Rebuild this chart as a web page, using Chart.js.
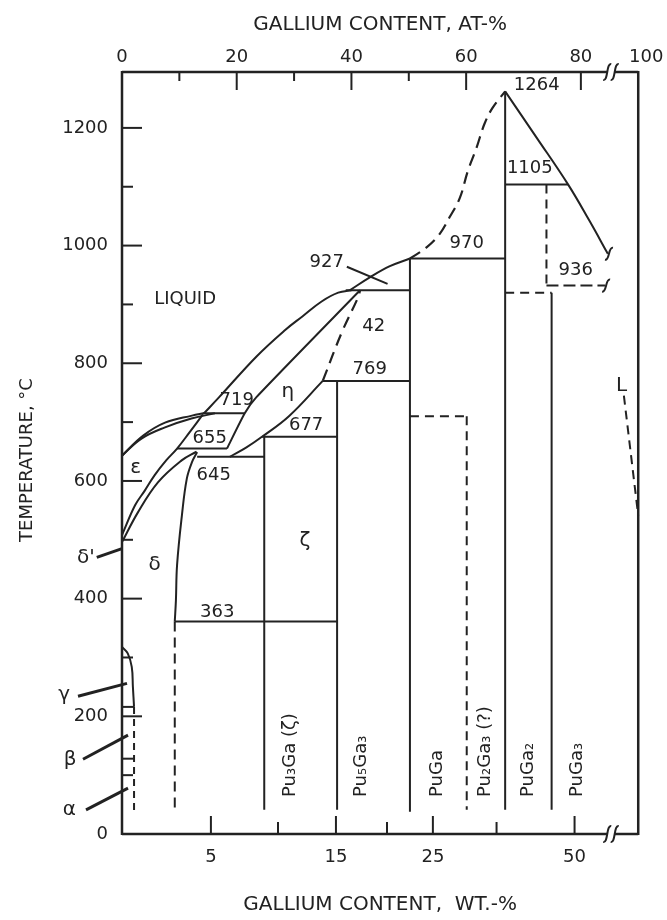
<!DOCTYPE html>
<html><head><meta charset="utf-8">
<script src="https://cdn.jsdelivr.net/npm/chart.js@4"></script>
<style>html,body{margin:0;padding:0;background:#fff}canvas{display:block}</style>
</head><body>
<canvas id="c" width="667" height="920" style="width:667px;height:920px"></canvas>
<script>
// ---------- axis tick data (x = Ga content at.-%, y = temperature °C) ----------
const atTickValues = [0, 20, 40, 60, 80, 91.4];   // last one is the "100" label beyond the break
const atTickLabels = ['0', '20', '40', '60', '80', '100'];
const atMinorTicks = [10, 30, 50];
const wtTickPositions = [15.5, 27.2, 37.3, 46.2, 54.2, 65.3, 78.9]; // at.-% position of each wt.-% tick
const wtTickLabels = ['5', '', '15', '', '25', '', '50'];
const tempTicks = [0, 200, 400, 600, 800, 1000, 1200];
const tempTickLabels = ['0', '200', '400', '600', '800', '1000', '1200'];
const tempMinorTicks = [100, 300, 500, 700, 900, 1100];

// ---------- phase boundaries [at.-% Ga, °C] ----------
const liquidusLow = [[0,643],[3.7,677],[7.5,699],[12.2,711],[14.3,715]];
const liquidusMid = [[14.3,715],[16.9,742],[23.5,812],[28.5,857],[31.5,880],[34.8,905],[37.7,920],[40.0,924]];
const liquidusUpper = [[39.7,924],[43.2,946],[46.7,965],[50.2,978]];
const liquidusDashed = [[50.2,978],[53.1,997],[55.4,1020],[57.1,1048],[58.9,1081],[60.3,1127],[61.8,1166],[63.2,1207],[64.6,1234],[66.8,1262]];
const liquidusGaRich = [[66.8,1262],[72.25,1184],[77.76,1104],[81.5,1042],[84.7,986]];
const epsilonSolidus = [[0,643],[3.4,672],[7.5,691],[12.1,706],[16.2,715]];
const epsilonDelta = [[0,508],[2.3,559],[4.0,584],[5.7,610],[7.7,635],[9.6,655],[11.8,683],[14.1,713]];
const deltaEpsilon = [[0,496],[2.8,547],[6.3,598],[10.4,635],[13.0,650]];
const deltaSolvus = [[9.2,361],[9.4,397],[9.6,457],[10.45,542],[11.3,604],[12.2,632],[13.1,649]];
const etaLeft = [[18.3,655],[21.4,715],[23.4,742],[41.5,924]];
const etaRight = [[18.8,641],[21.7,657],[24.4,675],[29.1,710],[35.0,770]];
const etaRightDashed = [[35.0,770],[38.3,852],[41.2,913],[41.5,924]];
const gammaBoundary = [[0,318],[1.0,307],[1.7,284],[1.9,250],[2.1,216]];

// isotherms
const iso363 = [[9.2,361],[37.5,361]];
const iso645 = [[13.1,641],[24.8,641]];
const iso655 = [[9.6,655],[18.3,655]];
const iso677 = [[24.4,675],[37.5,675]];
const iso719 = [[14.1,715],[21.4,715]];
const iso769 = [[35.0,770],[50.2,770]];
const iso927 = [[39.0,924],[50.2,924]];
const iso970 = [[50.2,978],[66.8,978]];
const iso1105 = [[66.8,1104],[77.76,1104]];
const iso936 = [[74.0,932],[84.2,932]];
const isoPuGa3 = [[66.8,920],[74.9,920]];
const isoPu2Ga3 = [[50.2,710],[60.1,710]];
const isoBetaGamma = [[0,216],[2.1,216]];
const isoAlphaBeta = [[0,128],[2.1,128]];

// compounds (vertical lines)
const linePu3Ga = [[24.8,675],[24.8,41]];
const linePu5Ga3 = [[37.5,770],[37.5,41]];
const linePuGa = [[50.2,978],[50.2,38]];
const linePuGa2 = [[66.8,1262],[66.8,41]];
const linePuGa3 = [[74.9,920],[74.9,41]];
const linePu2Ga3 = [[60.1,710],[60.1,41]];
const lineDeltaLimit = [[9.2,361],[9.2,44]];
const lineAlphaLimit = [[2.1,216],[2.1,37]];
const linePuGa3Upper = [[74.0,1104],[74.0,932]];
const lineGaLiquidus = [[87.5,745],[90,541]];

// leader lines
const leader927 = [[39.2,964],[46.3,935]];
const leaderDeltaPrime = [[-4.4,470],[0,485]];
const leaderGamma = [[-7.67,234],[0.87,256]];
const leaderBeta = [[-6.8,127],[1.05,168]];
const leaderAlpha = [[-6.27,41],[1.05,78]];

// text labels [text, at.-%, °C]
const pointLabels = [
  ['LIQUID', 11.0, 908], ['927', 35.7, 971], ['970', 60.1, 1003], ['1264', 72.3, 1273],
  ['1105', 71.1, 1132], ['936', 79.1, 958], ['42', 43.9, 862], ['769', 43.2, 789],
  ['719', 20.0, 737], ['655', 15.3, 672], ['645', 16.0, 609], ['677', 32.1, 694], ['363', 16.6, 377]
];
const greekLabels = [
  ['ε', 2.4, 623], ['δ', 5.7, 457], ['η', 28.9, 752], ['ζ', 31.9, 499], ['L', 87.1, 762],
  ["δ'", -6.3, 470], ['γ', -10.1, 236], ['β', -9.06, 126], ['α', -9.2, 41]
];
const phaseNames = [['Pu₃Ga (ζ)', 29.3], ['Pu₅Ga₃', 41.8], ['PuGa', 54.9], ['Pu₂Ga₃ (?)', 63.4], ['PuGa₂', 70.9], ['PuGa₃', 79.3]];
const phaseNameBase = 63;

// ---------- styling / building ----------
const INK = '#222';
const FONT = "'DejaVu Sans', sans-serif";
const DASH = [9, 6];

function seg(pts, extra) {
  return Object.assign({
    data: pts.map(p => ({x: p[0], y: p[1]})),
    showLine: true, pointRadius: 0, pointHoverRadius: 0,
    borderColor: INK, borderWidth: 2, tension: 0, fill: false, clip: false
  }, extra || {});
}
const curve = {tension: 0.4};
const dashed = {borderDash: DASH};
const dashedCurve = {borderDash: [12, 7], tension: 0.4, borderWidth: 2.2};
const leader = {borderWidth: 3};

const datasets = [
  seg(liquidusLow, curve), seg(liquidusMid, curve), seg(liquidusUpper, curve),
  seg(liquidusDashed, dashedCurve), seg(liquidusGaRich, curve),
  seg(epsilonSolidus, curve), seg(epsilonDelta, curve), seg(deltaEpsilon, curve),
  seg(deltaSolvus, curve), seg(etaLeft, {tension: 0.2}), seg(etaRight, curve), seg(etaRightDashed, dashedCurve),
  seg(gammaBoundary, curve),
  seg(iso363), seg(iso645), seg(iso655), seg(iso677), seg(iso719), seg(iso769), seg(iso927),
  seg(iso970), seg(iso1105), seg(iso936, {borderDash: [12, 5]}), seg(isoPuGa3, dashed), seg(isoPu2Ga3, dashed),
  seg(isoBetaGamma), seg(isoAlphaBeta),
  seg(linePu3Ga), seg(linePu5Ga3), seg(linePuGa), seg(linePuGa2), seg(linePuGa3),
  seg(linePu2Ga3, dashed), seg(lineDeltaLimit, {borderDash: [10, 6]}), seg(lineAlphaLimit, {borderDash: [7, 5]}),
  seg(linePuGa3Upper, dashed), seg(lineGaLiquidus, dashed),
  seg(leader927, {borderWidth: 2}), seg(leaderDeltaPrime, leader), seg(leaderGamma, leader),
  seg(leaderBeta, leader), seg(leaderAlpha, leader)
];

const overlay = {
  id: 'overlay',
  afterDraw(chart) {
    const {ctx, chartArea: a} = chart;
    const x = chart.scales.x, x2 = chart.scales.x2, y = chart.scales.y;
    const L = (x1, y1, xb, yb) => { ctx.beginPath(); ctx.moveTo(x1, y1); ctx.lineTo(xb, yb); ctx.stroke(); };
    const brk = (px, py, h) => {
      ctx.beginPath(); ctx.moveTo(px - 4, py + h);
      ctx.bezierCurveTo(px + 1, py + h + 1, px - 1, py - h - 1, px + 4, py - h); ctx.stroke();
    };
    ctx.save();
    ctx.strokeStyle = INK; ctx.fillStyle = INK; ctx.lineCap = 'butt';
    // frame with breaks
    ctx.lineWidth = 2.5;
    const g0 = x.getPixelForValue(84.6), g1 = x.getPixelForValue(85.9);
    L(a.left, a.top - 1, a.left, a.bottom + 1);
    L(a.right, a.top - 1, a.right, a.bottom + 1);
    L(a.left, a.top, g0, a.top); L(g1, a.top, a.right, a.top);
    L(a.left, a.bottom, g0, a.bottom); L(g1, a.bottom, a.right, a.bottom);
    ctx.lineWidth = 2;
    [g0, g1].forEach(g => { brk(g, a.top, 8); brk(g, a.bottom, 8); });
    brk(x.getPixelForValue(84.9), y.getPixelForValue(986), 6);
    brk(x.getPixelForValue(84.4), y.getPixelForValue(932), 6);
    // inward ticks
    atTickValues.forEach(v => { if (v > 0 && v < 90) { const p = x.getPixelForValue(v); L(p, a.top, p, a.top + 18); } });
    atMinorTicks.forEach(v => { const p = x.getPixelForValue(v); L(p, a.top, p, a.top + 9); });
    wtTickPositions.forEach((v, i) => { const p = x2.getPixelForValue(v); L(p, a.bottom, p, a.bottom - (wtTickLabels[i] ? 18 : 12)); });
    tempTicks.forEach(v => { if (v > 0) { const p = y.getPixelForValue(v); L(a.left, p, a.left + 20, p); } });
    tempMinorTicks.forEach(v => { const p = y.getPixelForValue(v); L(a.left, p, a.left + 11, p); });
    // labels
    ctx.textAlign = 'center'; ctx.textBaseline = 'middle';
    ctx.font = '18px ' + FONT;
    pointLabels.forEach(l => ctx.fillText(l[0], x.getPixelForValue(l[1]), y.getPixelForValue(l[2])));
    ctx.font = '20px ' + FONT;
    greekLabels.forEach(l => ctx.fillText(l[0], x.getPixelForValue(l[1]), y.getPixelForValue(l[2])));
    ctx.font = '18px ' + FONT; ctx.textAlign = 'left';
    phaseNames.forEach(l => {
      ctx.save(); ctx.translate(x.getPixelForValue(l[1]), y.getPixelForValue(phaseNameBase));
      ctx.rotate(-Math.PI / 2); ctx.fillText(l[0], 0, 0); ctx.restore();
    });
    // y title
    ctx.save(); ctx.translate(27, 460); ctx.rotate(-Math.PI / 2);
    ctx.textAlign = 'center'; ctx.font = '18px ' + FONT; ctx.fillText('TEMPERATURE, °C', 0, 0); ctx.restore();
    ctx.restore();
  }
};

const tickFont = {family: FONT, size: 18};
new Chart(document.getElementById('c'), {
  type: 'scatter',
  data: {datasets},
  options: {
    responsive: false, animation: false, events: [],
    layout: {padding: {left: 0, top: 0, right: 28, bottom: 0}},
    plugins: {legend: {display: false}, tooltip: {enabled: false}},
    scales: {
      x: {
        type: 'linear', position: 'top', min: 0, max: 90,
        grid: {display: false, drawTicks: false}, border: {display: false},
        afterBuildTicks: s => { s.ticks = atTickValues.map(v => ({value: v})); },
        ticks: {autoSkip: false, maxRotation: 0, padding: 4, color: INK, font: tickFont,
          callback: (v, i) => atTickLabels[i]},
        title: {display: true, text: 'GALLIUM CONTENT, AT-%', color: INK, font: {family: FONT, size: 20}, padding: {top: 13, bottom: 0}},
        afterFit: s => { s.height = 72; }
      },
      x2: {
        type: 'linear', position: 'bottom', min: 0, max: 90,
        grid: {display: false, drawTicks: false}, border: {display: false},
        afterBuildTicks: s => { s.ticks = wtTickPositions.map(v => ({value: v})); },
        ticks: {autoSkip: false, maxRotation: 0, padding: 13, color: INK, font: tickFont,
          callback: (v, i) => wtTickLabels[i]},
        title: {display: true, text: 'GALLIUM CONTENT,  WT.-%', color: INK, font: {family: FONT, size: 20}, padding: {top: 0, bottom: 3}},
        afterFit: s => { s.height = 86; }
      },
      y: {
        type: 'linear', position: 'left', min: 0, max: 1295,
        grid: {display: false, drawTicks: false}, border: {display: false},
        afterBuildTicks: s => { s.ticks = tempTicks.map(v => ({value: v})); },
        ticks: {autoSkip: false, padding: 14, color: INK, font: tickFont,
          callback: (v, i) => tempTickLabels[i]},
        afterFit: s => { s.width = 122; }
      }
    }
  },
  plugins: [overlay]
});
</script>
</body></html>
